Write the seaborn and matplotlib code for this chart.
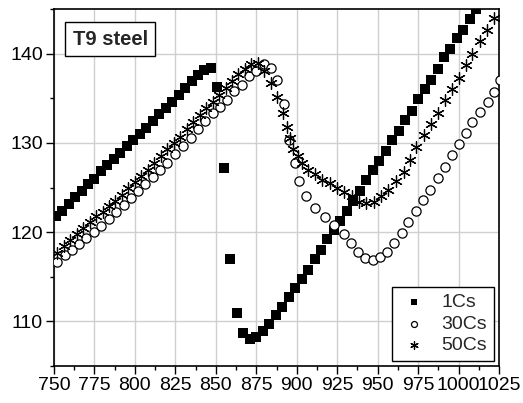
import matplotlib
matplotlib.use("Agg")
import matplotlib.pyplot as plt
from matplotlib.ticker import MultipleLocator
import seaborn as sns
import pandas as pd

# Temperature (x) and measured value (y) for each cooling condition
t_1cs = [751, 755, 759, 763, 767, 771, 775, 779, 783, 787, 791, 795, 799, 803,
         807, 811, 815, 819, 823, 827, 831, 835, 839, 843, 847, 851, 855, 859,
         863, 867, 871, 875, 879, 883, 887, 891, 895, 899, 903, 907, 911, 915,
         919, 923, 927, 931, 935, 939, 943, 947, 951, 955, 959, 963, 967, 971,
         975, 979, 983, 987, 991, 995, 999, 1003, 1007, 1011, 1015]
v_1cs = [121.8, 122.4, 123.1, 123.9, 124.6, 125.4, 126.0, 126.8, 127.5, 128.2,
         128.9, 129.6, 130.3, 131.0, 131.7, 132.4, 133.2, 133.9, 134.6, 135.4,
         136.1, 136.9, 137.6, 138.2, 138.4, 136.3, 127.2, 117.0, 110.9, 108.7,
         108.0, 108.3, 108.9, 109.7, 110.7, 111.6, 112.7, 113.7, 114.8, 115.8,
         117.0, 118.0, 119.2, 120.2, 121.3, 122.4, 123.5, 124.6, 125.8, 127.0,
         128.0, 129.1, 130.3, 131.3, 132.6, 133.6, 134.9, 136.0, 137.1, 138.3,
         139.6, 140.5, 141.7, 142.7, 143.9, 145.0, 146.1]

t_30cs = [752, 756.5, 761, 765.5, 770, 774.5, 779, 784, 788.5, 793, 797.5, 802,
          806.5, 811, 815.5, 820, 825, 830, 834.5, 839, 843.5, 848, 852.5, 857,
          861.5, 866, 870.5, 875, 879.5, 884, 888, 892, 895.5, 899, 901.5, 906,
          911, 917.5, 923, 929, 933.5, 938, 942, 947, 951.5, 955.5, 960, 965,
          969, 973.5, 978, 982.5, 987, 991.5, 996, 1000.5, 1004.5, 1008.5,
          1013, 1018, 1022, 1025.5]
v_30cs = [116.7, 117.4, 118.0, 118.7, 119.3, 120.0, 120.7, 121.5, 122.3, 123.0,
          123.8, 124.6, 125.4, 126.2, 127.0, 127.8, 128.7, 129.6, 130.6, 131.5,
          132.4, 133.3, 134.0, 134.8, 135.8, 136.5, 137.5, 138.0, 138.8, 138.4,
          137.1, 134.4, 130.3, 127.7, 125.7, 124.0, 122.7, 121.7, 120.8, 119.8,
          118.8, 117.8, 117.1, 116.9, 117.2, 117.8, 118.8, 119.9, 121.1, 122.4,
          123.6, 124.7, 126.1, 127.3, 128.6, 129.9, 131.1, 132.3, 133.5, 134.6,
          135.7, 137.0]

t_50cs = [752, 756, 760, 764, 768, 772, 776, 780, 784, 788, 792, 796, 800, 804,
          808, 812, 816, 820, 824, 828, 832, 836, 840, 844, 848, 852, 856, 860,
          864, 868, 872, 876, 880, 884, 888, 891.5, 894, 896, 898, 900.5, 903,
          907, 911, 915.5, 920.5, 925, 929.5, 934, 938.5, 943, 947.5, 952,
          956.5, 961.5, 966, 970, 974, 978.5, 983, 987.5, 991.5, 996, 1000.5,
          1004.5, 1008.5, 1013, 1017.5, 1022]
v_50cs = [117.7, 118.4, 119.1, 119.8, 120.5, 121.1, 121.8, 122.3, 122.9, 123.5,
          124.2, 124.9, 125.6, 126.3, 127.0, 127.8, 128.5, 129.3, 130.0, 130.7,
          131.5, 132.3, 133.1, 133.9, 134.6, 135.4, 136.1, 136.9, 137.7, 138.3,
          138.8, 139.0, 138.0, 136.7, 135.1, 133.3, 131.8, 130.6, 129.3, 128.5,
          127.7, 127.0, 126.5, 125.8, 125.5, 125.0, 124.5, 124.0, 123.4, 123.3,
          123.4, 124.0, 124.7, 125.7, 126.7, 128.1, 129.5, 130.9, 132.1, 133.4,
          134.8, 136.0, 137.3, 138.7, 140.0, 141.4, 142.7, 144.0]

x_ticks = [750, 775, 800, 825, 850, 875, 900, 925, 950, 975, 1000, 1025]
y_ticks = [110, 120, 130, 140]

sns.set_style("ticks")
plt.rcParams["font.family"] = ["Liberation Sans", "DejaVu Sans"]

fig = plt.figure(figsize=(5.23, 4.03), dpi=100)
ax = fig.add_axes([54 / 523, 37 / 403, 445 / 523, 357 / 403])

df1 = pd.DataFrame({"T": t_1cs, "V": v_1cs})
df30 = pd.DataFrame({"T": t_30cs, "V": v_30cs})
df50 = pd.DataFrame({"T": t_50cs, "V": v_50cs})

sns.scatterplot(data=df1, x="T", y="V", ax=ax, marker="s", s=50,
                color="black", edgecolor="black", linewidth=0, label="1Cs",
                zorder=3)
sns.scatterplot(data=df30, x="T", y="V", ax=ax, marker="o", s=44,
                facecolor="white", edgecolor="black", linewidth=0.9,
                label="30Cs", zorder=3)
sns.scatterplot(data=df50, x="T", y="V", ax=ax, marker=(6, 2, 0), s=70,
                color="black", linewidth=0.9, label="50Cs", zorder=3)

ax.set_xlim(750, 1025)
ax.set_ylim(105, 145)
ax.set_xticks(x_ticks)
ax.set_yticks(y_ticks)
ax.xaxis.set_minor_locator(MultipleLocator(12.5))
ax.yaxis.set_minor_locator(MultipleLocator(5))
ax.set_xlabel("")
ax.set_ylabel("")

ax.grid(True, which="major", color="#cfcfcf", linewidth=1.0, zorder=0)
ax.set_axisbelow(True)

for side in ["left", "right", "top", "bottom"]:
    ax.spines[side].set_visible(True)
    ax.spines[side].set_color("black")
    ax.spines[side].set_linewidth(1.2)

ax.tick_params(axis="both", which="major", length=6, width=1.0,
               labelsize=14, color="black", labelcolor="black")
ax.tick_params(axis="x", which="major", pad=2)
ax.tick_params(axis="y", which="major", pad=2)
ax.tick_params(axis="both", which="minor", length=3, width=1.0, color="black")

ax.text(0.042, 0.942, "T9 steel", transform=ax.transAxes, fontsize=14.5,
        fontweight="bold", va="top", ha="left",
        bbox=dict(boxstyle="square,pad=0.38", facecolor="white",
                  edgecolor="black", linewidth=1.0))

leg = ax.legend(loc="lower right", fontsize=14, frameon=True, fancybox=False,
                framealpha=1, edgecolor="black", borderpad=0.35,
                labelspacing=0.2, handlelength=1.6, handletextpad=0.6,
                borderaxespad=0.25, markerscale=0.65)
leg.get_frame().set_linewidth(1.0)

fig.savefig("out.png", dpi=100)
